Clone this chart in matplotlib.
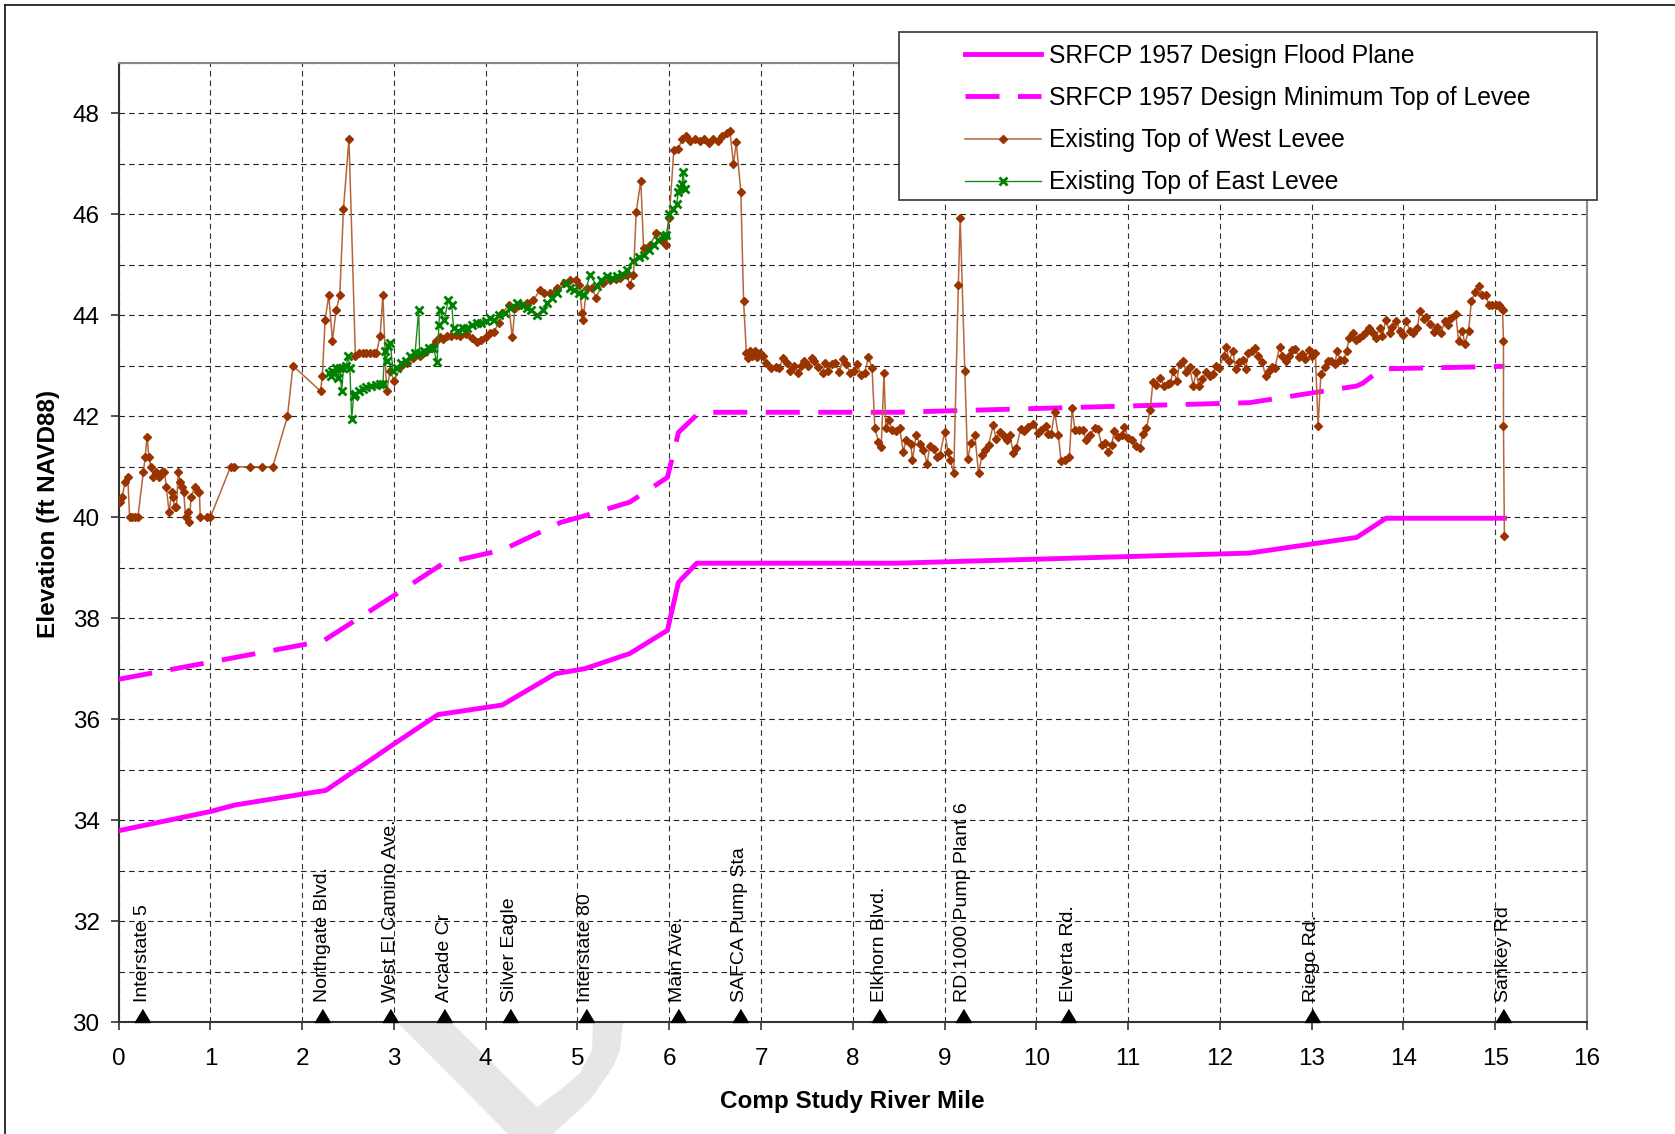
import matplotlib
matplotlib.use('Agg')
import matplotlib.pyplot as plt
import numpy as np
from matplotlib.patches import Rectangle, Polygon
from matplotlib.lines import Line2D
from matplotlib.ticker import MultipleLocator

plt.rcParams['font.family'] = ['Liberation Sans', 'DejaVu Sans']
plt.rcParams['hatch.linewidth'] = 0.6
plt.rcParams['hatch.color'] = '#cdcdcd'

# SRFCP 1957 design profiles
flood_x = [0, 1.0, 1.27, 2.26, 3.01, 3.48, 4.18, 4.76, 5.08, 5.57, 5.98, 6.1, 6.3,
           8.48, 12.32, 13.49, 13.81, 15.1]
flood_y = [33.79, 34.17, 34.3, 34.59, 35.52, 36.09, 36.28, 36.9, 37.0, 37.3, 37.76, 38.71, 39.09,
           39.09, 39.29, 39.6, 39.98, 39.98]

mintop_x = [0, 1.0, 2.23, 3.01, 3.54, 4.18, 4.82, 5.08, 5.57, 5.98, 6.1, 6.33,
            8.48, 12.32, 13.49, 13.56, 13.76, 15.1]
mintop_y = [36.79, 37.13, 37.55, 38.46, 39.09, 39.35, 39.9, 40.03, 40.3, 40.79, 41.68, 42.08,
            42.08, 42.27, 42.6, 42.66, 42.94, 42.99]

# existing levee crest surveys
west_x = [0.02, 0.04, 0.07, 0.10, 0.12, 0.15, 0.18, 0.21, 0.27, 0.29, 0.31, 0.33, 0.35, 0.38,
          0.41, 0.44, 0.47, 0.50, 0.52, 0.55, 0.58, 0.59, 0.61, 0.63, 0.65, 0.67, 0.69, 0.71,
          0.73, 0.76, 0.77, 0.79, 0.83, 0.86, 0.88, 0.89, 0.96, 1.00, 1.22, 1.26, 1.43, 1.56,
          1.68, 1.84, 1.90, 2.20, 2.22, 2.25, 2.29, 2.33, 2.37, 2.41, 2.45, 2.51, 2.58, 2.62,
          2.66, 2.70, 2.74, 2.78, 2.81, 2.85, 2.88, 2.92, 2.96, 3.00, 3.07, 3.14, 3.21, 3.28,
          3.34, 3.40, 3.43, 3.46, 3.50, 3.54, 3.58, 3.62, 3.68, 3.72, 3.79, 3.85, 3.90, 3.95,
          4.00, 4.05, 4.09, 4.14, 4.18, 4.25, 4.29, 4.32, 4.38, 4.45, 4.52, 4.59, 4.64, 4.70,
          4.78, 4.85, 4.92, 4.98, 5.02, 5.05, 5.06, 5.10, 5.16, 5.20, 5.28, 5.35, 5.42, 5.46,
          5.54, 5.57, 5.61, 5.64, 5.69, 5.72, 5.79, 5.86, 5.92, 5.97, 6.00, 6.05, 6.10, 6.14,
          6.18, 6.23, 6.28, 6.33, 6.38, 6.43, 6.48, 6.53, 6.58, 6.63, 6.66, 6.70, 6.73, 6.78,
          6.81, 6.84, 6.86, 6.88, 6.90, 6.93, 6.96, 6.99, 7.02, 7.05, 7.11, 7.16, 7.20, 7.24,
          7.28, 7.32, 7.36, 7.40, 7.44, 7.47, 7.51, 7.55, 7.58, 7.62, 7.67, 7.70, 7.73, 7.77,
          7.81, 7.85, 7.89, 7.93, 7.97, 8.01, 8.05, 8.09, 8.13, 8.17, 8.21, 8.24, 8.28, 8.31,
          8.34, 8.36, 8.39, 8.43, 8.47, 8.51, 8.55, 8.58, 8.63, 8.65, 8.69, 8.73, 8.77, 8.81,
          8.84, 8.88, 8.92, 8.95, 9.00, 9.04, 9.06, 9.10, 9.15, 9.17, 9.22, 9.25, 9.29, 9.33,
          9.37, 9.41, 9.44, 9.48, 9.53, 9.56, 9.60, 9.64, 9.68, 9.71, 9.75, 9.78, 9.83, 9.87,
          9.91, 9.96, 10.02, 10.05, 10.11, 10.13, 10.16, 10.20, 10.24, 10.27, 10.31, 10.36, 10.39,
          10.42, 10.47, 10.51, 10.54, 10.58, 10.64, 10.67, 10.71, 10.75, 10.78, 10.82, 10.85,
          10.89, 10.93, 10.96, 11.00, 11.04, 11.09, 11.13, 11.16, 11.20, 11.24, 11.27, 11.30,
          11.35, 11.39, 11.43, 11.46, 11.49, 11.53, 11.56, 11.60, 11.63, 11.67, 11.71, 11.74,
          11.77, 11.81, 11.85, 11.89, 11.92, 11.96, 11.99, 12.04, 12.07, 12.10, 12.14, 12.17,
          12.21, 12.25, 12.28, 12.31, 12.35, 12.38, 12.42, 12.46, 12.50, 12.53, 12.57, 12.60,
          12.65, 12.68, 12.72, 12.75, 12.79, 12.82, 12.86, 12.89, 12.93, 12.97, 13.00, 13.04,
          13.07, 13.10, 13.14, 13.18, 13.21, 13.25, 13.28, 13.31, 13.35, 13.38, 13.41, 13.45,
          13.48, 13.52, 13.56, 13.59, 13.62, 13.67, 13.70, 13.74, 13.77, 13.81, 13.85, 13.88,
          13.92, 13.96, 13.99, 14.03, 14.07, 14.10, 14.15, 14.18, 14.22, 14.25, 14.29, 14.33,
          14.37, 14.41, 14.45, 14.49, 14.52, 14.57, 14.60, 14.64, 14.67, 14.71, 14.74, 14.78,
          14.82, 14.86, 14.90, 14.93, 14.97, 15.01, 15.04, 15.06, 15.08, 15.09, 15.09, 15.10]
west_y = [40.3, 40.4, 40.7, 40.8, 40.0, 40.0, 40.0, 40.0, 40.9, 41.2, 41.6, 41.2, 41.0, 40.8,
          40.9, 40.8, 40.9, 40.9, 40.6, 40.1, 40.5, 40.4, 40.2, 40.2, 40.9, 40.7, 40.6, 40.5,
          40.0, 40.1, 39.9, 40.4, 40.6, 40.5, 40.5, 40.0, 40.0, 40.0, 41.0, 41.0, 41.0, 41.0,
          41.0, 42.0, 43.0, 42.5, 42.8, 43.9, 44.4, 43.5, 44.1, 44.4, 46.1, 47.5, 43.2, 43.25,
          43.25, 43.25, 43.25, 43.25, 43.25, 43.6, 44.4, 42.5, 42.9, 42.7, 42.97, 43.05, 43.16, 43.2,
          43.27, 43.35, 43.4, 43.5, 43.57, 43.53, 43.6, 43.6, 43.62, 43.6, 43.63, 43.55, 43.47, 43.52,
          43.57, 43.65, 43.67, 43.85, 44.05, 44.2, 43.57, 44.15, 44.2, 44.25, 44.3, 44.5, 44.45, 44.45,
          44.55, 44.65, 44.7, 44.7, 44.6, 44.05, 43.9, 44.55, 44.55, 44.35, 44.65, 44.7, 44.72, 44.75,
          44.8, 44.6, 44.8, 46.05, 46.67, 45.34, 45.4, 45.63, 45.5, 45.4, 45.93, 47.28, 47.3, 47.5,
          47.55, 47.45, 47.5, 47.45, 47.5, 47.42, 47.5, 47.45, 47.55, 47.62, 47.66, 47.0, 47.43, 46.45,
          44.28, 43.26, 43.15, 43.3, 43.2, 43.3, 43.18, 43.25, 43.2, 43.06, 42.95, 42.98, 42.95, 43.16,
          43.05, 42.9, 43.0, 42.86, 43.0, 43.1, 43.0, 43.15, 43.1, 42.98, 42.85, 43.06, 42.9, 43.03,
          43.05, 42.88, 43.13, 43.03, 42.86, 42.9, 43.03, 42.82, 42.86, 43.17, 42.96, 41.77, 41.5, 41.4,
          42.86, 41.77, 41.93, 41.73, 41.7, 41.77, 41.29, 41.54, 41.46, 41.14, 41.62, 41.46, 41.33, 41.06,
          41.42, 41.35, 41.2, 41.24, 41.68, 41.29, 41.14, 40.88, 44.6, 45.93, 42.9, 41.15, 41.48, 41.63,
          40.87, 41.24, 41.34, 41.44, 41.83, 41.55, 41.68, 41.62, 41.54, 41.62, 41.28, 41.37, 41.75, 41.7,
          41.79, 41.85, 41.67, 41.73, 41.81, 41.64, 41.64, 42.08, 41.62, 41.11, 41.14, 41.2, 42.16,
          41.73, 41.72, 41.72, 41.54, 41.62, 41.77, 41.75, 41.44, 41.48, 41.29, 41.44, 41.7,
          41.6, 41.62, 41.79, 41.57, 41.54, 41.41, 41.37, 41.64, 41.77, 42.13, 42.68, 42.63,
          42.76, 42.61, 42.64, 42.66, 42.9, 42.7, 43.04, 43.1, 42.87, 42.97, 42.6, 42.87,
          42.6, 42.74, 42.87, 42.79, 42.83, 43.0, 42.96, 43.19, 43.38, 43.09, 43.3, 42.94,
          43.07, 43.12, 42.94, 43.25, 43.29, 43.36, 43.19, 43.07, 42.79, 42.9, 42.97, 42.96,
          43.38, 43.2, 43.09, 43.19, 43.32, 43.34, 43.17, 43.24, 43.14, 43.32, 43.19, 43.25,
          41.8, 42.84, 42.97, 43.09, 43.09, 43.04, 43.29, 43.11, 43.12, 43.29, 43.56, 43.65,
          43.52, 43.56, 43.62, 43.67, 43.75, 43.65, 43.56, 43.75, 43.6, 43.91, 43.65, 43.77,
          43.89, 43.7, 43.62, 43.89, 43.7, 43.65, 43.75, 44.09, 43.93, 43.97, 43.83, 43.67,
          43.77, 43.65, 43.89, 43.8, 43.95, 44.03, 43.5, 43.69, 43.44, 43.7, 44.28, 44.46,
          44.58, 44.41, 44.4, 44.2, 44.2, 44.2, 44.2, 44.15, 44.1, 43.49, 41.8, 39.62]

east_x = [2.29, 2.31, 2.33, 2.35, 2.37, 2.39, 2.41, 2.43, 2.45, 2.48, 2.50, 2.52, 2.54, 2.56,
          2.58, 2.62, 2.66, 2.70, 2.75, 2.80, 2.85, 2.88, 2.90, 2.92, 2.94, 2.96, 2.99, 3.03,
          3.08, 3.13, 3.18, 3.23, 3.27, 3.28, 3.33, 3.38, 3.43, 3.47, 3.49, 3.50, 3.55, 3.59,
          3.63, 3.65, 3.70, 3.75, 3.80, 3.85, 3.90, 3.95, 4.00, 4.05, 4.09, 4.14, 4.21, 4.27,
          4.34, 4.40, 4.45, 4.49, 4.56, 4.62, 4.67, 4.72, 4.78, 4.87, 4.92, 4.96, 5.02, 5.07,
          5.14, 5.21, 5.26, 5.32, 5.38, 5.43, 5.49, 5.54, 5.61, 5.67, 5.72, 5.78, 5.83, 5.88,
          5.93, 5.97, 6.00, 6.04, 6.08, 6.10, 6.12, 6.14, 6.15, 6.17]
east_y = [42.85, 42.8, 42.9, 42.85, 42.95, 42.75, 42.95, 42.5, 42.95, 43.0, 43.2, 42.95, 41.95, 42.4,
          42.45, 42.5, 42.55, 42.58, 42.6, 42.63, 42.65, 42.65, 43.3, 43.1, 43.4, 43.45, 42.9, 42.95,
          43.05, 43.1, 43.2, 43.25, 44.1, 43.25, 43.3, 43.35, 43.35, 43.07, 43.8, 44.1, 43.9, 44.3,
          44.2, 43.75, 43.7, 43.75, 43.75, 43.8, 43.85, 43.85, 43.88, 43.95, 43.9, 44.0, 44.05, 44.15,
          44.25, 44.2, 44.15, 44.1, 44.0, 44.1, 44.25, 44.35, 44.45, 44.65, 44.55, 44.5, 44.45, 44.4,
          44.8, 44.58, 44.7, 44.78, 44.75, 44.78, 44.82, 44.9, 45.07, 45.15, 45.2, 45.3, 45.4, 45.5,
          45.57, 45.6, 46.0, 46.1, 46.2, 46.45, 46.53, 46.6, 46.85, 46.5]

# landmarks along the river
landmark_names = ['Interstate 5', 'Northgate Blvd.', 'West El Camino Ave.', 'Arcade Cr',
                  'Silver Eagle', 'Interstate 80', 'Main Ave.', 'SAFCA Pump Sta',
                  'Elkhorn Blvd.', 'RD 1000 Pump Plant 6', 'Elverta Rd.', 'Riego Rd.', 'Sankey Rd']
landmark_miles = [0.26, 2.22, 2.96, 3.55, 4.26, 5.09, 6.09, 6.77, 8.29, 9.2, 10.35, 13.0, 15.09]

W, H = 1675, 1134
fig = plt.figure(figsize=(W / 100, H / 100), dpi=100)
ax = fig.add_axes([118.6 / W, 1 - 1022 / H, (1587 - 118.6) / W, (1022 - 63) / H])

ax.plot(flood_x, flood_y, color='#ff00ff', lw=3.5, solid_joinstyle='round',
        label='SRFCP 1957 Design Flood Plane', zorder=3)
ax.plot(mintop_x, mintop_y, color='#ff00ff', lw=3.5, dashes=(7, 3.8),
        label='SRFCP 1957 Design Minimum Top of Levee', zorder=3)
ax.plot(west_x, west_y, color='#b5653a', lw=1.1, marker='D', ms=3.9,
        mfc='#993300', mec='#993300', label='Existing Top of West Levee', zorder=4)
ax.plot(east_x, east_y, color='#1a8a1a', lw=1.0, marker='x', ms=5.5, mew=2.0,
        mec='#008000', label='Existing Top of East Levee', zorder=4)

# landmark triangles sitting on the x axis + rotated names
tri = [(-1.2, 0), (1.2, 0), (0, 2)]
ax.plot(landmark_miles, np.full(len(landmark_miles), 30.0), ls='none', marker=tri, ms=18.7,
        color='black', clip_on=False, zorder=6)
for name, m in zip(landmark_names, landmark_miles):
    ax.annotate(name, xy=(m, 30), xytext=(0, 14.5), textcoords='offset points', rotation=90,
                ha='center', va='bottom', fontsize=14, annotation_clip=False, zorder=6)

ax.set_xlim(0, 16)
ax.set_ylim(30, 49)
ax.xaxis.set_major_locator(MultipleLocator(1))
ax.yaxis.set_major_locator(MultipleLocator(2))
ax.yaxis.set_minor_locator(MultipleLocator(1))
ax.tick_params(which='major', direction='out', length=5.8, width=1.2, color='#333333', labelsize=17.5)
ax.tick_params(which='minor', length=0)
ax.tick_params(axis='x', pad=13)
ax.tick_params(axis='y', pad=7.9)
ax.set_axisbelow(True)
ax.grid(which='both', axis='y', ls=(0, (5, 3.6)), color='#222222', lw=0.8)
ax.grid(which='major', axis='x', ls=(0, (5, 3.6)), color='#333333', lw=0.8)

for s in ['left', 'bottom']:
    ax.spines[s].set_color('#333333')
    ax.spines[s].set_linewidth(1.5)
for s in ['top', 'right']:
    ax.spines[s].set_color('#888888')
    ax.spines[s].set_linewidth(1.5)

ax.set_xlabel('Comp Study River Mile', fontsize=17.5, fontweight='bold')
ax.xaxis.set_label_coords(0.5, -0.0705)
ax.set_ylabel('Elevation (ft NAVD88)', fontsize=17.5, fontweight='bold')
ax.yaxis.set_label_coords(-0.040, 0.53)

# legend box drawn by hand so the padding matches
fig.add_artist(Rectangle((899 / W, 1 - 200 / H), (1597 - 899) / W, 168 / H, transform=fig.transFigure,
                         facecolor='white', edgecolor='#333333', lw=1.2, zorder=1))
fig.legend(*ax.get_legend_handles_labels(), loc='upper left', bbox_to_anchor=(965 / W, 1 - 44 / H),
           frameon=False, fontsize=17.7, handlelength=3.1, handletextpad=0.3, labelspacing=0.735,
           borderpad=0, borderaxespad=0, numpoints=1)

# page frame (top and left edges only visible)
fig.add_artist(Line2D([5 / W, 5 / W], [0, 1 - 5 / H], color='#222222', lw=1.3))
fig.add_artist(Line2D([5 / W, 1], [1 - 5 / H, 1 - 5 / H], color='#222222', lw=1.3))

# faint grey watermark fragment under the axis
wm = np.array([(398, 1023), (452, 1023), (537, 1107), (560, 1090), (580, 1073), (592, 1050),
               (593, 1023), (623, 1023), (620, 1050), (613, 1067), (590, 1100), (553, 1134),
               (508, 1134)], dtype=float)
fig.add_artist(Polygon(np.column_stack([wm[:, 0] / W, 1 - wm[:, 1] / H]), closed=True,
                       facecolor='#e6e6e6', edgecolor='none', hatch='++', zorder=-1))

fig.savefig('out.png', dpi=100)
